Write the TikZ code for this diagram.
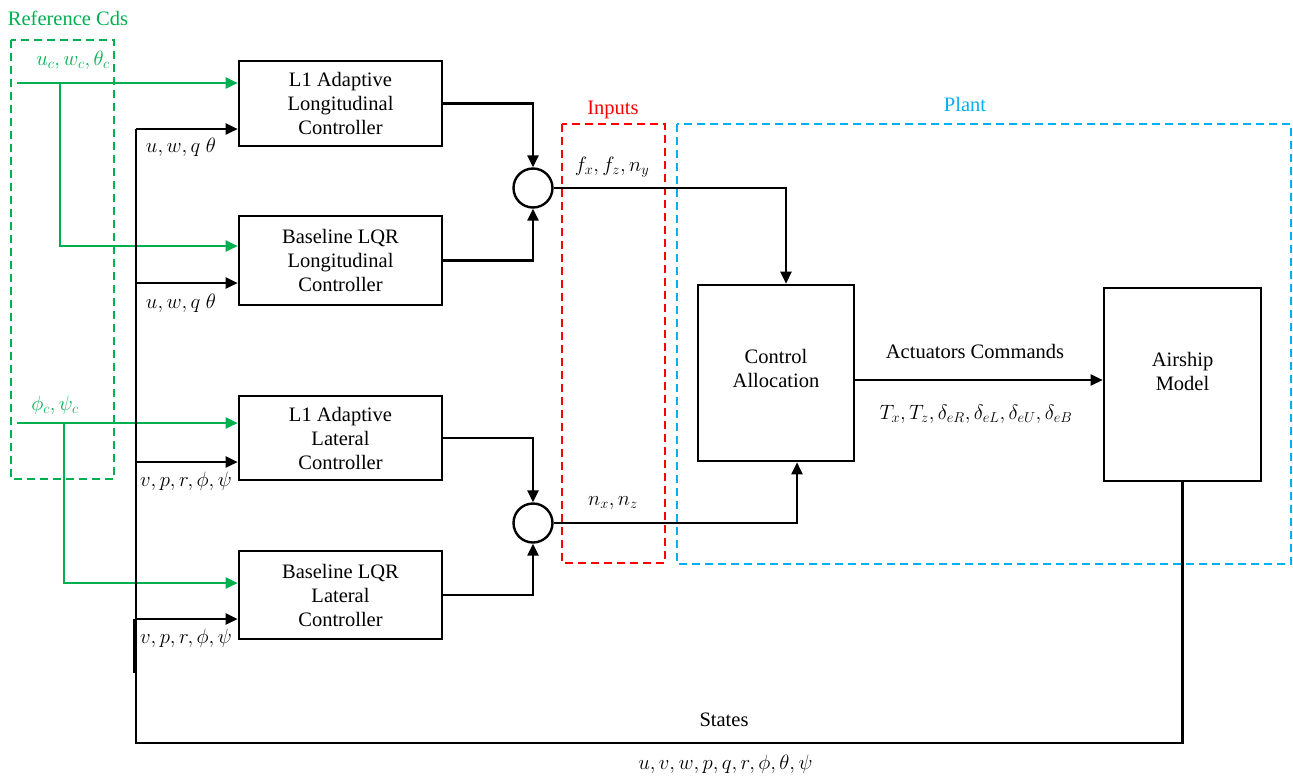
\documentclass[tikz,border=0pt]{standalone}
\usepackage{fontspec}
\setmainfont{Liberation Serif}
\usetikzlibrary{arrows.meta,calc}
\definecolor{refgreen}{RGB}{0,176,80}
\definecolor{plantblue}{RGB}{0,176,240}
\definecolor{inred}{RGB}{255,0,0}
\begin{document}
\begin{tikzpicture}[x=1pt,y=-1pt,
  every node/.style={font=\rmfamily\fontsize{20.5}{24}\selectfont, align=center},
  box/.style={draw, line width=2.6pt, minimum width=203pt, minimum height=84pt, inner sep=0pt},
  bigbox/.style={draw, line width=2.6pt, inner sep=0pt},
  sumnode/.style={draw, circle, line width=2.4pt, minimum size=39pt, inner sep=0pt},
  blk/.style={line width=2.4pt, -{Triangle[length=12pt,width=11pt]}},
  blkline/.style={line width=2.4pt},
  grn/.style={draw=refgreen, line width=2.4pt, -{Triangle[length=12pt,width=11pt]}, refgreen},
  dashbox/.style={line width=1.9pt, dash pattern=on 8pt off 5pt},
  lbl/.style={inner sep=0pt},
  mth/.style={inner sep=0pt, font=\rmfamily\fontsize{22}{24}\selectfont}
]
\useasboundingbox (0,0) rectangle (1293,777);

% dashed group frames
\draw[dashbox, refgreen] (11,40) rectangle (114,479);
\draw[dashbox, inred] (562,124) rectangle (665,563);
\draw[dashbox, plantblue] (677,124) rectangle (1291,564);

% controller boxes
\node[box, minimum height=85pt] (l1lon) at (340.5,103.5) {L1 Adaptive\\Longitudinal\\Controller};
\node[box, minimum height=89pt] (bllon) at (340.5,260.5) {Baseline LQR\\Longitudinal\\Controller};
\node[box, minimum height=84pt] (l1lat) at (340.5,438) {L1 Adaptive\\Lateral\\Controller};
\node[box, minimum height=88pt] (bllat) at (340.5,595) {Baseline LQR\\Lateral\\Controller};

% summing junctions
\node[sumnode] (sum1) at (533,188) {};
\node[sumnode] (sum2) at (533,523) {};

% control allocation and airship
\node[bigbox, minimum width=156pt, minimum height=176pt] (ca) at (776,373) {};
\node[lbl] (catext) at (776,368) {Control\\Allocation};
\node[bigbox, minimum width=157pt, minimum height=193pt] (air) at (1182.5,384.5) {};
\node[lbl] (airtext) at (1182.5,371) {Airship\\Model};

% group titles
\node[lbl, text=refgreen] (reftitle) at (68,18) {Reference Cds};
\node[lbl, text=inred] (intitle) at (613,110) {Inputs};
\node[lbl, text=plantblue] (planttitle) at (965,104) {Plant};

% green reference command lines
\coordinate (g1) at (17,83);
\coordinate (g1b) at (60,83);
\coordinate (g2) at (17,423);
\coordinate (g2b) at (64,423);
\draw[grn] (g1) -- (g1 -| l1lon.west);
\draw[grn] (g1b) |- ($(bllon.west)+(0,-14.5)$);
\draw[grn] (g2) -- (g2 -| l1lat.west);
\draw[grn] (g2b) |- ($(bllat.west)+(0,-12)$);
\node[mth, text=refgreen] (lonref) at (73,60) {$u_c, w_c, \theta_c$};
\node[mth, text=refgreen] (latref) at (55,405) {$\phi_c, \psi_c$};

% state feedback
\coordinate (fbl) at (136,743);
\coordinate (t1) at (136,129);
\coordinate (t2) at (136,283);
\coordinate (t3) at (136,462);
\coordinate (t4) at (136,619);
\draw[blkline] (air.south) |- (fbl) -- (t1);
\draw[blkline] ($(t4)+(-1.5,0)$) -- ++(0,54);
\draw[blk] (t1) -- (t1 -| l1lon.west);
\draw[blk] (t2) -- (t2 -| bllon.west);
\draw[blk] (t3) -- (t3 -| l1lat.west);
\draw[blk] (t4) -- (t4 -| bllat.west);
\node[mth] (s1) at (181,147) {$u, w, q\ \theta$};
\node[mth] (s2) at (181,303) {$u, w, q\ \theta$};
\node[mth] (s3) at (186,481) {$v, p, r, \phi, \psi$};
\node[mth] (s4) at (186,638) {$v, p, r, \phi, \psi$};
\node[lbl] (states) at (724,720) {States};
\node[mth] (statevec) at (725.5,764) {$u, v, w, p, q, r, \phi, \theta, \psi$};

% controller outputs to summing junctions
\draw[blk] (l1lon.east) -| (sum1.north);
\draw[blk] (bllon.east) -| (sum1.south);
\draw[blk] (l1lat.east) -| (sum2.north);
\draw[blk] (bllat.east) -| (sum2.south);

% summed inputs to control allocation
\draw[blk] (sum1.east) -| ($(ca.north)+(10,0)$);
\draw[blk] (sum2.east) -| ($(ca.south)+(21,0)$);
\node[mth] (in1) at (612,167) {$f_x, f_z, n_y$};
\node[mth] (in2) at (613,503) {$n_x, n_z$};

% actuator commands
\coordinate (ac) at (854,380);
\draw[blk] (ac) -- (ac -| air.west);
\node[lbl] (actt) at (975,351) {Actuators Commands};
\node[mth] (actv) at (976,414) {$T_x, T_z, \delta_{eR}, \delta_{eL}, \delta_{eU}, \delta_{eB}$};
\end{tikzpicture}
\end{document}
